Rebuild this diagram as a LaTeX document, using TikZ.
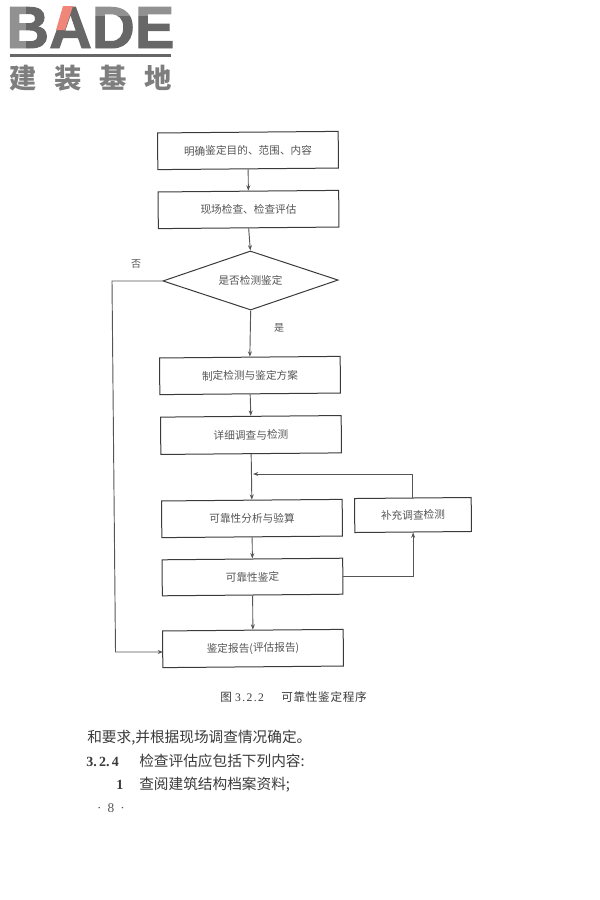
\documentclass[tikz,border=0pt]{standalone}
\usepackage{fontspec}
\setmainfont{Noto Sans CJK SC}
\newfontfamily\latinserif{Liberation Serif}
\newfontfamily\capfont[LetterSpace=6]{Noto Sans CJK SC}
\newfontfamily\capnum[LetterSpace=12]{Liberation Serif}
\newfontfamily\logofont[UprightFont=* Bold,FakeBold=1.6]{Liberation Sans}
\usetikzlibrary{arrows.meta,shapes.geometric}
\definecolor{ink}{HTML}{3A3A3A}
\definecolor{soft}{HTML}{555555}
\definecolor{logogrey}{HTML}{676767}
\definecolor{logopink}{HTML}{F0857A}
\tikzset{
  flowbox/.style={draw=ink,line width=0.75pt,rectangle,inner sep=0pt,rotate=0.5,font=\fontsize{8}{10}\selectfont,text=soft},
  flowdia/.style={draw=ink,line width=0.75pt,diamond,aspect=2.97,inner sep=0pt,minimum width=131.5pt,minimum height=44.3pt,rotate=0.3,font=\fontsize{8}{10}\selectfont,text=soft},
  flowline/.style={draw=soft,line width=0.7pt,-{Stealth[length=4pt,width=3pt]}},
  small/.style={inner sep=0pt,font=\fontsize{7.5}{9}\selectfont,text=soft},
  capt/.style={inner sep=0pt,anchor=west,font=\capfont\fontsize{8.7}{10}\selectfont,text=ink},
  body/.style={inner sep=0pt,anchor=base west,font=\fontsize{11}{12}\selectfont,text=ink},
  logohan/.style={inner sep=0pt,text=logogrey!85,font=\fontsize{20.5}{22}\selectfont\bfseries},
}
\begin{document}
\begin{tikzpicture}[x=0.75pt,y=-0.75pt]
\useasboundingbox (0,0) rectangle (600,900);
% logo
\node (logoword) [inner sep=0pt,anchor=base west,text=logogrey,font=\logofont\fontsize{44.5}{46}\selectfont] at (6,48) {BADE};
\fill[white,opacity=.28] (8,4) rectangle (26,50);
\fill[white,opacity=.28] (95,4) rectangle (173,16);
\fill[logopink] (63,6) -- (73,6) -- (65,30) -- (56,30) -- cycle;
\fill[logogrey] (10,54) rectangle (171,57);
\node (lg1) [logohan] at (23,78) {建};
\node (lg2) [logohan] at (68,78) {装};
\node (lg3) [logohan] at (113,78) {基};
\node (lg4) [logohan] at (158,78) {地};
% flow nodes
\node (b1) [flowbox,minimum width=135.5pt,minimum height=27.5pt] at (248,150.5) {明确鉴定目的、范围、内容};
\node (b2) [flowbox,minimum width=135.5pt,minimum height=27.5pt] at (248.5,209.5) {现场检查、检查评估};
\node (d1) [flowdia] at (250.5,280.5) {是否检测鉴定};
\node (b3) [flowbox,minimum width=135.5pt,minimum height=27.5pt] at (250,375.5) {制定检测与鉴定方案};
\node (b4) [flowbox,minimum width=135.5pt,minimum height=28pt] at (251,435) {详细调查与检测};
\node (b5) [flowbox,minimum width=135.5pt,minimum height=27.5pt] at (252,518.5) {可靠性分析与验算};
\node (b6) [flowbox,minimum width=87.5pt,minimum height=25.5pt] at (413,515) {补充调查检测};
\node (b7) [flowbox,minimum width=135.5pt,minimum height=27pt] at (252.5,577) {可靠性鉴定};
\node (b8) [flowbox,minimum width=135.5pt,minimum height=27.5pt] at (253,648.5) {鉴定报告(评估报告)};
\coordinate (join) at (253,474);
\coordinate (bendtop) at (112,281);
\coordinate (bendlow) at (115.5,652);
\coordinate (b8in) at (163,652);
\node (no) [small] at (136,264) {否};
\node (yes) [small] at (279,328) {是};
% connectors
\draw[flowline] (b1.south) -- (b2.north);
\draw[flowline] (b2.south) -- (d1.north);
\draw[flowline] (d1.south) -- (b3.north);
\draw[flowline] (b3.south) -- (b4.north);
\draw[flowline] (b4.south) -- (b5.north);
\draw[flowline] (b5.south) -- (b7.north);
\draw[flowline] (b7.south) -- (b8.north);
\draw[flowline] (b6.north) |- (join);
\draw[flowline] (b7.east) -| (b6.south);
\draw[flowline] (d1.west) -- (bendtop) -- (bendlow) -- (b8in);
% caption and text
\node (cap) [capt] at (220,697) {图 {\capnum\fontsize{8.7}{10}\selectfont 3.2.2}\hspace{1.5em}可靠性鉴定程序};
\node (t1) [body] at (87,742) {和要求,并根据现场调查情况确定。};
\node (t2n) [body,font=\latinserif\fontsize{10.5}{12}\selectfont\bfseries] at (86,766) {3.\,2.\,4};
\node (t2) [body] at (139,766) {检查评估应包括下列内容:};
\node (t3n) [body,font=\latinserif\fontsize{10.5}{12}\selectfont\bfseries] at (116,789) {1};
\node (t3) [body] at (139,789) {查阅建筑结构档案资料;};
\node (pg) [inner sep=0pt,text=soft,font=\latinserif\fontsize{10}{11}\selectfont] at (111,808) {·\hspace{0.45em}8\hspace{0.45em}·};
\end{tikzpicture}
\end{document}
